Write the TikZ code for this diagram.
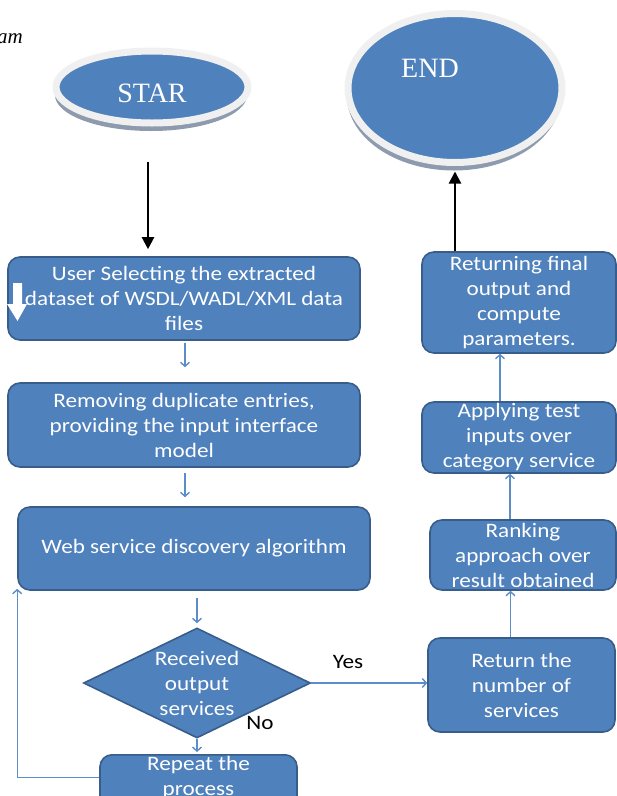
\documentclass[tikz,border=0pt]{standalone}
\usepackage{fontspec}
\setmainfont{Carlito}
\newfontfamily\serifface{Liberation Serif}
\newfontfamily\boxface[FakeStretch=1.13]{Carlito}
\usetikzlibrary{shapes.geometric,arrows.meta,shadows,calc}
\definecolor{boxblue}{HTML}{4F81BD}
\definecolor{boxedge}{HTML}{385D8A}
\definecolor{linkblue}{HTML}{5B8DC8}
\definecolor{ringgrey}{HTML}{F0F0F0}
\definecolor{shadowgrey}{HTML}{8E9AAE}
\begin{document}
\begin{tikzpicture}[x=1pt,y=-1pt,
  proc/.style={draw=boxedge, line width=1.6pt, fill=boxblue, rounded corners=12pt,
    text=white, align=center, font=\boxface\fontsize{20.5}{25}\selectfont, inner sep=0pt},
  txt/.style={text=white, align=center, font=\boxface\fontsize{20.5}{25}\selectfont, inner sep=0pt},
  decision/.style={diamond, draw=boxedge, line width=1.6pt, fill=boxblue, inner sep=0pt},
  oval/.style={ellipse, fill=boxblue, draw=ringgrey, line width=7pt,
    drop shadow={shadow xshift=-1pt, shadow yshift=-8pt, fill=shadowgrey, opacity=1}},
  ovaltext/.style={text=white, font=\serifface\fontsize{28}{30}\selectfont, inner sep=0pt},
  flow/.style={draw=linkblue, line width=1.4pt, -{Straight Barb[length=4pt,width=9pt]}},
  mainflow/.style={draw=black, line width=2.2pt, -{Triangle[length=12pt,width=12pt]}},
  answer/.style={text=black, font=\boxface\fontsize{20.5}{22}\selectfont, inner sep=0pt}
]
\useasboundingbox (0,0) rectangle (617,796);

% caption fragment
\node[font=\serifface\itshape\fontsize{21}{23}\selectfont, anchor=base east, inner sep=0pt]
  (cap) at (23,43) {am};

% terminals
\node[oval, minimum width=192pt, minimum height=72pt] (start) at (152,87) {};
\node[ovaltext] (starttxt) at ([yshift=-6pt]start.center) {STAR};
\node[oval, minimum width=214pt, minimum height=149pt] (end) at (455,88) {};
\node[ovaltext] (endtxt) at ([xshift=-25pt,yshift=20pt]end.center) {END};

% left column
\node[proc, minimum width=352pt, minimum height=83pt] (b1) at (184,298.5)
  {User Selecting the extracted\\dataset of WSDL/WADL/XML data\\files};
\node[proc, minimum width=352pt, minimum height=84pt] (b2) at (184,425)
  {Removing duplicate entries,\\providing the input interface\\model};
\node[proc, minimum width=352pt, minimum height=83pt] (b3) at (194,548.5)
  {Web service discovery algorithm};
\node[decision, minimum width=227pt, minimum height=110pt] (dec) at (197,683) {};
\node[txt] (dectxt) at (197,683.5) {Received\\output\\services};
\node[proc, anchor=north, minimum width=197pt, minimum height=70pt] (rep) at (198.5,754) {};
\node[txt] (reptxt) at (198.5,777.5) {Repeat the\\process};

% right column
\node[proc, minimum width=187pt, minimum height=94pt] (b7) at (521.5,685)
  {Return the\\number of\\services};
\node[proc, minimum width=186pt, minimum height=70pt] (b8) at (523,555)
  {Ranking\\approach over\\result obtained};
\node[proc, minimum width=194pt, minimum height=71pt] (b9) at (519,437.5)
  {Applying test\\inputs over\\category service};
\node[proc, minimum width=194pt, minimum height=101pt] (b10) at (519,302.5)
  {Returning final\\output and\\compute\\parameters.};

% white marker arrow on the first box
\fill[white] (13,283) -- (22,283) -- (22,304) -- (27,304) -- (17.5,321) -- (7,304) -- (13,304) -- cycle;

% branch labels
\node[answer] (yes) at (348,662) {Yes};
\node[answer] (no) at (260,723) {No};

% connectors
\draw[mainflow, shorten <=35pt, shorten >=7pt]
  ([xshift=-4pt]start.south) -- ([xshift=-4pt]start.south |- b1.north);
\draw[flow, shorten <=2pt, shorten >=15pt] ([xshift=1pt]b1.south) -- ([xshift=1pt]b1.south |- b2.north);
\draw[flow, shorten <=5pt, shorten >=9pt] ([xshift=1pt]b2.south) -- ([xshift=1pt]b2.south |- b3.north);
\draw[flow, shorten <=7pt, shorten >=4pt] (b3.south -| dec.north) -- (dec.north);
\draw[flow, shorten >=2pt] (dec.south) -- (dec.south |- rep.north);
\draw[flow, shorten >=-2pt] (reptxt -| rep.west) -| (b3.south west);
\draw[flow] (dec.east) -- (dec.east -| b7.west);
\draw[flow] ([xshift=-11pt]b7.north) -- ([xshift=-11pt]b7.north |- b8.south);
\draw[flow] ([xshift=-13pt]b8.north) -- ([xshift=-13pt]b8.north |- b9.south);
\draw[flow] ([xshift=-19pt]b9.north) -- ([xshift=-19pt]b9.north |- b10.south);
\draw[mainflow, shorten >=5.5pt] (b10.north -| end.south) -- (end.south);
\end{tikzpicture}
\end{document}
